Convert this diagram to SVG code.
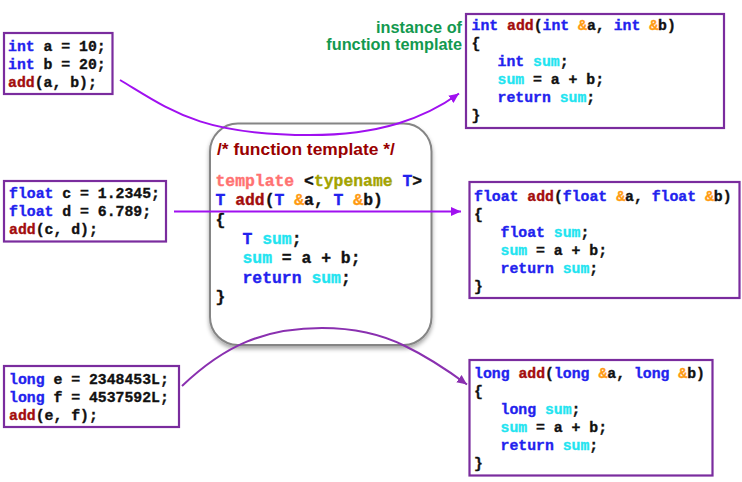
<svg xmlns="http://www.w3.org/2000/svg" width="742" height="482" viewBox="0 0 742 482">
<style>
.box{fill:#fff;stroke:#7a2c9e;stroke-width:2.2}
.code{font-family:"Liberation Mono","Courier New",monospace;font-weight:bold;font-size:14.8px;fill:#111;stroke:#111;stroke-width:0.35}
.ccode{font-family:"Liberation Mono","Courier New",monospace;font-weight:bold;font-size:16.4px;fill:#111;stroke:#111;stroke-width:0.35}
.kw{fill:#2222ee;stroke:#2222ee}
.fn{fill:#a30d0d;stroke:#a30d0d}
.amp{fill:#ff9a10;stroke:#ff9a10}
.var{fill:#22e4f0;stroke:#22e4f0}
.tpl{fill:#ff7272;stroke:#ff7272}
.tn{fill:#a3a300;stroke:#a3a300}
.cmt{font-family:"Liberation Sans",Arial,sans-serif;font-weight:bold;font-size:17.4px;fill:#990000}
.lbl{font-family:"Liberation Sans",Arial,sans-serif;font-weight:bold;font-size:16.3px;fill:#13994f}
.c1{fill:none;stroke:#a010f0;stroke-width:2}
.c3{fill:none;stroke:#8a30b0;stroke-width:2}
</style>
<defs>
<filter id="sh" x="-10%" y="-10%" width="120%" height="125%">
<feDropShadow dx="0" dy="3" stdDeviation="2" flood-color="#000" flood-opacity="0.35"/>
</filter>
<marker id="a1" markerUnits="userSpaceOnUse" markerWidth="12" markerHeight="10" refX="10" refY="5" orient="auto">
<path d="M0,0.5 L10,5 L0,9.5 z" fill="#a010f0"/>
</marker>
<marker id="a3" markerUnits="userSpaceOnUse" markerWidth="12" markerHeight="10" refX="10" refY="5" orient="auto">
<path d="M0,0.5 L10,5 L0,9.5 z" fill="#8a30b0"/>
</marker>
</defs>
<rect width="742" height="482" fill="#fff"/>

<g id="template">
<rect x="210" y="123.5" width="221.5" height="221.5" rx="28" fill="#fff" stroke="#858585" stroke-width="2" filter="url(#sh)"/>
<text class="cmt" x="217" y="155">/* function template */</text>
<text class="ccode" xml:space="preserve"><tspan x="215.5" y="186"><tspan class="tpl">template</tspan> &lt;<tspan class="tn">typename</tspan> <tspan class="kw">T</tspan>&gt;</tspan><tspan x="215.5" y="205.3"><tspan class="kw">T</tspan> <tspan class="fn">add</tspan>(<tspan class="kw">T</tspan> <tspan class="amp">&amp;</tspan>a, <tspan class="kw">T</tspan> <tspan class="amp">&amp;</tspan>b)</tspan><tspan x="215.5" y="224.6">{</tspan><tspan x="242.5" y="243.9"><tspan class="kw">T</tspan> <tspan class="var">sum</tspan>;</tspan><tspan x="242.5" y="263.2"><tspan class="var">sum</tspan> = a + b;</tspan><tspan x="242.5" y="282.5"><tspan class="kw">return</tspan> <tspan class="var">sum</tspan>;</tspan><tspan x="215.5" y="301.8">}</tspan></text>
</g>

<g id="call-int">
<rect class="box" x="4" y="33" width="108.5" height="61"/>
<text class="code" xml:space="preserve"><tspan x="8" y="50.5"><tspan class="kw">int</tspan> a = 10;</tspan><tspan x="8" y="68.5"><tspan class="kw">int</tspan> b = 20;</tspan><tspan x="8" y="86.5"><tspan class="fn">add</tspan>(a, b);</tspan></text>
</g>

<g id="call-float">
<rect class="box" x="4" y="181" width="162" height="60.5"/>
<text class="code" xml:space="preserve"><tspan x="9" y="197.5"><tspan class="kw">float</tspan> c = 1.2345;</tspan><tspan x="9" y="215.5"><tspan class="kw">float</tspan> d = 6.789;</tspan><tspan x="9" y="233.5"><tspan class="fn">add</tspan>(c, d);</tspan></text>
</g>

<g id="call-long">
<rect class="box" x="4" y="366" width="175" height="61"/>
<text class="code" xml:space="preserve"><tspan x="9" y="383.5"><tspan class="kw">long</tspan> e = 2348453L;</tspan><tspan x="9" y="401.5"><tspan class="kw">long</tspan> f = 4537592L;</tspan><tspan x="9" y="419.5"><tspan class="fn">add</tspan>(e, f);</tspan></text>
</g>

<g id="label">
<text class="lbl" text-anchor="end"><tspan x="462" y="32.5">instance of</tspan><tspan x="462" y="50">function template</tspan></text>
</g>

<g id="inst-int">
<rect class="box" x="466" y="14" width="258" height="114"/>
<text class="code" xml:space="preserve"><tspan x="471.5" y="30"><tspan class="kw">int</tspan> <tspan class="fn">add</tspan>(<tspan class="kw">int</tspan> <tspan class="amp">&amp;</tspan>a, <tspan class="kw">int</tspan> <tspan class="amp">&amp;</tspan>b)</tspan><tspan x="471.5" y="48">{</tspan><tspan x="497.5" y="66"><tspan class="kw">int</tspan> <tspan class="var">sum</tspan>;</tspan><tspan x="497.5" y="84"><tspan class="var">sum</tspan> = a + b;</tspan><tspan x="497.5" y="102"><tspan class="kw">return</tspan> <tspan class="var">sum</tspan>;</tspan><tspan x="471.5" y="120">}</tspan></text>
</g>

<g id="inst-float">
<rect class="box" x="469.5" y="182" width="270" height="116"/>
<text class="code" xml:space="preserve"><tspan x="474" y="200.5"><tspan class="kw">float</tspan> <tspan class="fn">add</tspan>(<tspan class="kw">float</tspan> <tspan class="amp">&amp;</tspan>a, <tspan class="kw">float</tspan> <tspan class="amp">&amp;</tspan>b)</tspan><tspan x="474" y="218.5">{</tspan><tspan x="500.5" y="236.5"><tspan class="kw">float</tspan> <tspan class="var">sum</tspan>;</tspan><tspan x="500.5" y="254.5"><tspan class="var">sum</tspan> = a + b;</tspan><tspan x="500.5" y="272.5"><tspan class="kw">return</tspan> <tspan class="var">sum</tspan>;</tspan><tspan x="474" y="290.5">}</tspan></text>
</g>

<g id="inst-long">
<rect class="box" x="469.5" y="360" width="243" height="115.5"/>
<text class="code" xml:space="preserve"><tspan x="474" y="377.5"><tspan class="kw">long</tspan> <tspan class="fn">add</tspan>(<tspan class="kw">long</tspan> <tspan class="amp">&amp;</tspan>a, <tspan class="kw">long</tspan> <tspan class="amp">&amp;</tspan>b)</tspan><tspan x="474" y="395.5">{</tspan><tspan x="500.5" y="413.5"><tspan class="kw">long</tspan> <tspan class="var">sum</tspan>;</tspan><tspan x="500.5" y="431.5"><tspan class="var">sum</tspan> = a + b;</tspan><tspan x="500.5" y="449.5"><tspan class="kw">return</tspan> <tspan class="var">sum</tspan>;</tspan><tspan x="474" y="467.5">}</tspan></text>
</g>

<g id="connectors">
<path class="c1" d="M120,80 C170,110 200,135 310,135 C380,135 425,118 459,93.5" marker-end="url(#a1)"/>
<path class="c1" d="M174,211.5 L461,211.5" marker-end="url(#a1)"/>
<path class="c3" d="M182,386 C225,345 265,328 322,328 C357,328 385,336 405,346 C430,358 450,372 467,384.5" marker-end="url(#a3)"/>
</g>
</svg>
